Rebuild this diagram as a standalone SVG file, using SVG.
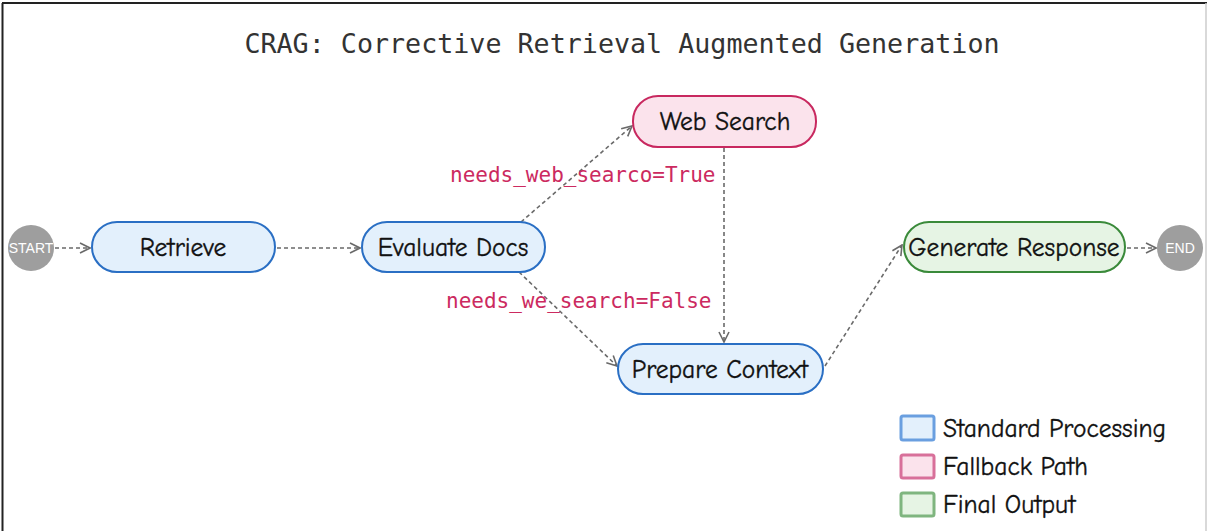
<svg xmlns="http://www.w3.org/2000/svg" width="1207" height="531" viewBox="0 0 1207 531">
<style>
.hand{font-family:"Comic Sans MS","Comic Neue","Noto Sans",sans-serif;font-size:25.5px;fill:#111;stroke:#111;stroke-width:0.35;text-anchor:middle;dominant-baseline:central}
.blue{fill:#e3f0fc;stroke:#2a6fc4;stroke-width:2}
.pink{fill:#fbe3ec;stroke:#c8285f;stroke-width:2}
.green{fill:#e6f4e4;stroke:#3a8a3a;stroke-width:2}
.term{fill:#9e9e9e}
.termtxt{font-family:"Liberation Sans",Arial,sans-serif;font-size:14px;fill:#fff;text-anchor:middle;dominant-baseline:central}
.edge{fill:none;stroke:#6a6a6a;stroke-width:1.6;stroke-dasharray:4 3}
.lbl{font-family:"DejaVu Sans Mono","Liberation Mono",monospace;font-size:21px;fill:#cc2a60}
.leg{font-family:"Comic Sans MS","Comic Neue","Noto Sans",sans-serif;font-size:25.5px;fill:#111;stroke:#111;stroke-width:0.35}
</style>
<defs>
<marker id="arr" viewBox="0 0 12 12" refX="11" refY="6" markerWidth="12" markerHeight="12" markerUnits="userSpaceOnUse" orient="auto">
<path d="M1,1 L11,6 L1,11" fill="none" stroke="#6a6a6a" stroke-width="1.6"/>
</marker>
</defs>
<rect x="0" y="0" width="1207" height="531" fill="#fff"/>
<line x1="2.5" y1="3" x2="2.5" y2="531" stroke="#222" stroke-width="2"/>
<line x1="2" y1="3" x2="1207" y2="3" stroke="#222" stroke-width="2"/>
<line x1="1206" y1="3" x2="1206" y2="531" stroke="#ccc" stroke-width="1.5"/>
<text x="622" y="53" font-family="DejaVu Sans Mono,Liberation Mono,monospace" font-size="26.7" fill="#333" text-anchor="middle">CRAG: Corrective Retrieval Augmented Generation</text>

<g id="connectors">
<line class="edge" x1="55" y1="248" x2="90" y2="248" marker-end="url(#arr)"/>
<line class="edge" x1="277" y1="248" x2="360" y2="248" marker-end="url(#arr)"/>
<line class="edge" x1="521" y1="222" x2="632" y2="126" marker-end="url(#arr)"/>
<line class="edge" x1="519" y1="272" x2="617" y2="366" marker-end="url(#arr)"/>
<line class="edge" x1="724" y1="148" x2="724" y2="342" marker-end="url(#arr)"/>
<line class="edge" x1="825" y1="366" x2="902" y2="245" marker-end="url(#arr)"/>
<line class="edge" x1="1127" y1="248" x2="1156" y2="248" marker-end="url(#arr)"/>
<text class="lbl" x="450" y="182">needs_web_searco=True</text>
<text class="lbl" x="446" y="308">needs_we_search=False</text>
</g>

<g id="start"><circle class="term" cx="31" cy="248" r="23"/><text class="termtxt" x="31" y="248">START</text></g>
<g id="retrieve"><rect class="blue" x="92" y="222" width="183" height="50" rx="25"/><text class="hand" x="183" y="247">Retrieve</text></g>
<g id="evaluate"><rect class="blue" x="362" y="222" width="183" height="50" rx="25"/><text class="hand" x="453" y="247">Evaluate Docs</text></g>
<g id="websearch"><rect class="pink" x="633" y="96" width="183" height="51" rx="25"/><text class="hand" x="725" y="121">Web Search</text></g>
<g id="prepare"><rect class="blue" x="618" y="344" width="205" height="50" rx="25"/><text class="hand" x="720" y="369">Prepare Context</text></g>
<g id="generate"><rect class="green" x="904" y="222" width="221" height="50" rx="25"/><text class="hand" x="1014" y="247">Generate Response</text></g>
<g id="end"><circle class="term" cx="1180" cy="248" r="23"/><text class="termtxt" x="1180" y="248">END</text></g>

<g id="legend">
<rect x="901" y="416" width="33" height="24" rx="2" fill="#e3f0fc" stroke="#6a9fe0" stroke-width="3"/>
<text class="leg" x="943" y="437">Standard Processing</text>
<rect x="901" y="455" width="33" height="23" rx="2" fill="#fbe3ec" stroke="#d8709a" stroke-width="3"/>
<text class="leg" x="943" y="475">Fallback Path</text>
<rect x="901" y="493" width="33" height="23" rx="2" fill="#e6f4e4" stroke="#7fb57f" stroke-width="3"/>
<text class="leg" x="943" y="513">Final Output</text>
</g>
</svg>
